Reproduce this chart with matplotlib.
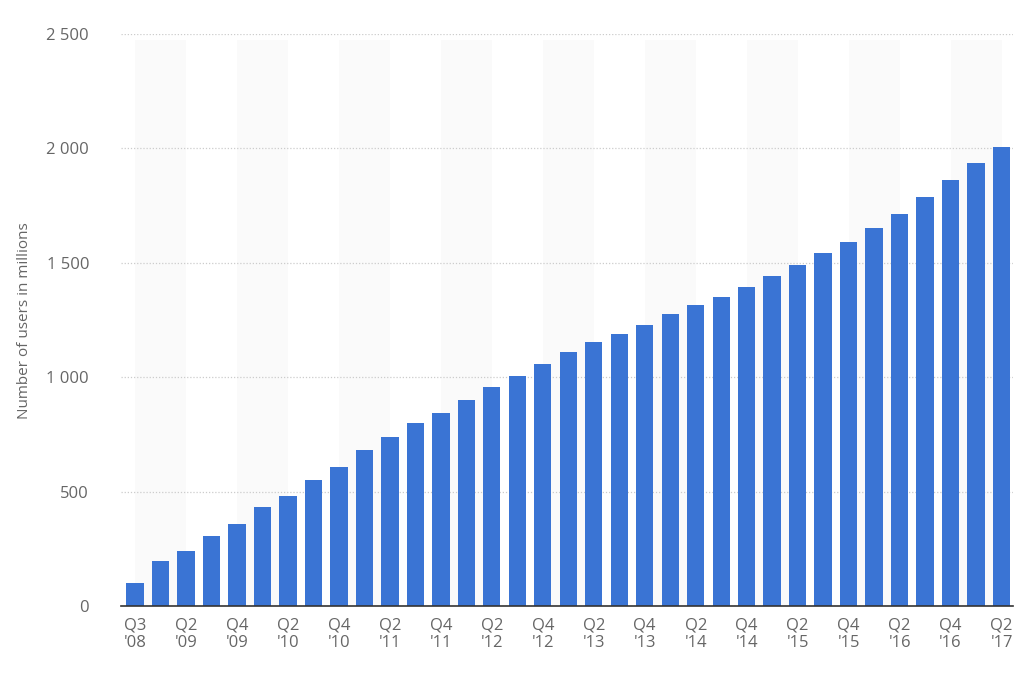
import matplotlib.pyplot as plt
import numpy as np

quarters = ["Q3 '08", "Q1 '09", "Q2 '09", "Q3 '09", "Q4 '09",
            "Q1 '10", "Q2 '10", "Q3 '10", "Q4 '10",
            "Q1 '11", "Q2 '11", "Q3 '11", "Q4 '11",
            "Q1 '12", "Q2 '12", "Q3 '12", "Q4 '12",
            "Q1 '13", "Q2 '13", "Q3 '13", "Q4 '13",
            "Q1 '14", "Q2 '14", "Q3 '14", "Q4 '14",
            "Q1 '15", "Q2 '15", "Q3 '15", "Q4 '15",
            "Q1 '16", "Q2 '16", "Q3 '16", "Q4 '16",
            "Q1 '17", "Q2 '17"]
users = [100, 197, 242, 305, 360,
         431, 482, 550, 608,
         680, 739, 800, 845,
         901, 955, 1007, 1056,
         1110, 1155, 1189, 1228,
         1276, 1317, 1350, 1393,
         1441, 1490, 1545, 1591,
         1654, 1712, 1788, 1860,
         1936, 2006]
yticks = [0, 500, 1000, 1500, 2000, 2500]

plt.rcParams['font.family'] = ['Open Sans', 'DejaVu Sans']
txt_color = "#666666"
fig = plt.figure(figsize=(10.24, 6.76), dpi=100)
ax = fig.add_axes([121 / 1024, 1 - 606 / 676, (1013 - 121) / 1024, (606 - 34) / 676])

x = np.arange(len(users))

# alternating background bands, every two categories
for i in range(0, len(users) - 1, 4):
    ax.axvspan(i, min(i + 2, len(users) - 1), ymin=0, ymax=0.99,
               color="#fafafa", zorder=0, lw=0)

ax.bar(x, users, width=0.68, color="#3a74d4", zorder=3)

ax.set_xlim(-0.55, len(users) - 0.55)
ax.set_ylim(0, 2500)
ax.set_yticks(yticks)
ax.set_yticklabels([format(v, ",").replace(",", " ") for v in yticks])
ax.yaxis.grid(True, linestyle=(0, (1, 1.5)), color="#cccccc", lw=0.9, zorder=1)

ticks = x[::2]
ax.set_xticks(ticks)
ax.set_xticklabels([quarters[i].replace(" ", "\n") for i in ticks], linespacing=1.15)

for s in ["top", "right", "left"]:
    ax.spines[s].set_visible(False)
ax.spines["bottom"].set_color("#333333")
ax.spines["bottom"].set_linewidth(1.2)
ax.spines["bottom"].set_zorder(4)

ax.tick_params(axis="both", length=0, colors=txt_color, labelsize=12)
ax.tick_params(axis="y", pad=23)
ax.tick_params(axis="x", pad=8)

ax.set_ylabel("Number of users in millions", color=txt_color, fontsize=11)
ax.yaxis.set_label_coords((32 - 121) / 892, (606 - 321) / 572)

fig.savefig("out.png", dpi=100, facecolor="white")
